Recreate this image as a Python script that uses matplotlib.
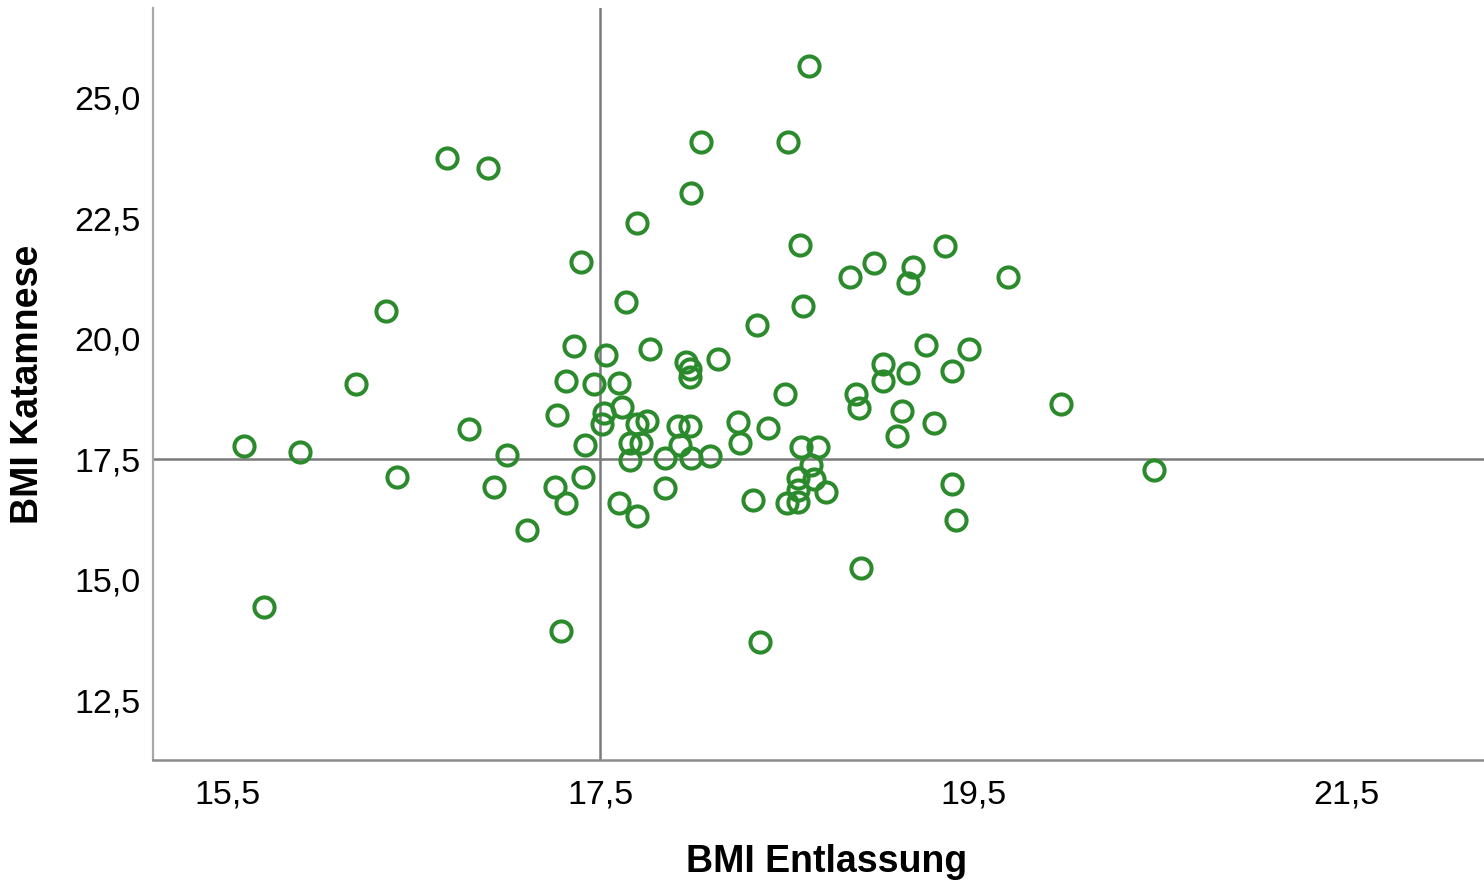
import matplotlib
matplotlib.use("Agg")
import matplotlib.pyplot as plt

# BMI at discharge (x) and at follow-up (y)
bmi_entlassung = [
    15.59, 15.70, 15.89, 16.19, 16.35, 16.41, 16.68, 16.90, 16.80, 16.93,
    17.00, 17.11, 17.26, 17.27, 17.29, 17.32, 17.32, 17.36, 17.40, 17.41,
    17.42, 17.47, 17.51, 17.52, 17.53, 17.60, 17.60, 17.62, 17.64, 17.66,
    17.66, 17.70, 17.70, 17.70, 17.72, 17.75, 17.77, 17.85, 17.85, 17.92,
    17.98, 17.93, 17.96, 17.98, 17.98, 17.99, 17.99, 18.04, 18.09, 18.13,
    18.24, 18.25, 18.32, 18.34, 18.36, 18.40, 18.49, 18.51, 18.57, 18.59,
    18.62, 18.58, 18.67, 18.63, 18.56, 18.65, 18.56, 18.71, 18.50, 18.56,
    18.84, 18.87, 18.89, 18.90, 18.97, 19.02, 19.02, 19.09, 19.12, 19.15,
    19.15, 19.18, 19.25, 19.29, 19.35, 19.39, 19.39, 19.41, 19.48, 19.69,
    19.97, 20.47,
]
bmi_katamnese = [
    17.77, 14.43, 17.65, 19.06, 20.57, 17.13, 23.74, 23.54, 18.12, 16.92,
    17.58, 16.03, 16.92, 18.41, 13.93, 19.12, 16.59, 19.84, 21.59, 17.13,
    17.79, 19.06, 18.23, 18.45, 19.66, 19.08, 16.59, 18.58, 20.76, 17.48,
    17.83, 22.40, 18.23, 16.32, 17.83, 18.29, 19.78, 17.52, 16.90, 18.18,
    18.18, 17.79, 19.51, 19.37, 19.20, 17.52, 23.02, 24.08, 17.56, 19.57,
    18.27, 17.83, 16.65, 20.28, 13.70, 18.14, 18.85, 24.08, 21.94, 20.67,
    25.65, 17.75, 17.75, 17.38, 17.11, 17.09, 16.86, 16.82, 16.59, 16.61,
    21.28, 18.85, 18.56, 15.24, 21.57, 19.47, 19.12, 17.98, 18.50, 21.15,
    19.28, 21.48, 19.87, 18.25, 21.92, 19.33, 16.98, 16.23, 19.78, 21.28,
    18.64, 17.27,
]
x_ticks = [15.5, 17.5, 19.5, 21.5]
x_tick_labels = ["15,5", "17,5", "19,5", "21,5"]
y_ticks = [12.5, 15.0, 17.5, 20.0, 22.5, 25.0]
y_tick_labels = ["12,5", "15,0", "17,5", "20,0", "22,5", "25,0"]
ref_x = 17.5
ref_y = 17.5

plt.rcParams['font.family'] = ['Liberation Sans', 'DejaVu Sans']

fig = plt.figure(figsize=(14.84, 8.82), dpi=100)
ax = fig.add_axes([153/1484, 122/882, 1 - 153/1484, (760-8)/882])

ax.axvline(ref_x, color='#7a7a7a', lw=1.8, zorder=1)
ax.axhline(ref_y, color='#7a7a7a', lw=1.8, zorder=1)

ax.plot(bmi_entlassung, bmi_katamnese, linestyle='none', marker='o',
        markersize=14.5, markerfacecolor='none', markeredgecolor='#2b8a2b',
        markeredgewidth=2.9, zorder=3)

ax.set_xlim(15.103, 22.24)
ax.set_ylim(11.255, 26.86)

ax.set_xticks(x_ticks)
ax.set_xticklabels(x_tick_labels)
ax.set_yticks(y_ticks)
ax.set_yticklabels(y_tick_labels)
ax.tick_params(axis='both', length=0, labelsize=24.5, colors='black')
ax.tick_params(axis='x', pad=14)
ax.tick_params(axis='y', pad=9)

for s in ['top', 'right']:
    ax.spines[s].set_visible(False)
ax.spines['left'].set_color('#a8a8a8')
ax.spines['left'].set_linewidth(1.6)
ax.spines['bottom'].set_color('#8c8c8c')
ax.spines['bottom'].set_linewidth(1.8)

ax.set_xlabel('BMI Entlassung', fontsize=27, fontweight='bold', labelpad=26)
ax.set_ylabel('BMI Katamnese', fontsize=27, fontweight='bold', labelpad=20)
ax.xaxis.set_label_coords(0.506, -0.112, transform=ax.transAxes)
ax.xaxis.label.set_va('top')

fig.savefig('out.png', dpi=100, facecolor='white')
